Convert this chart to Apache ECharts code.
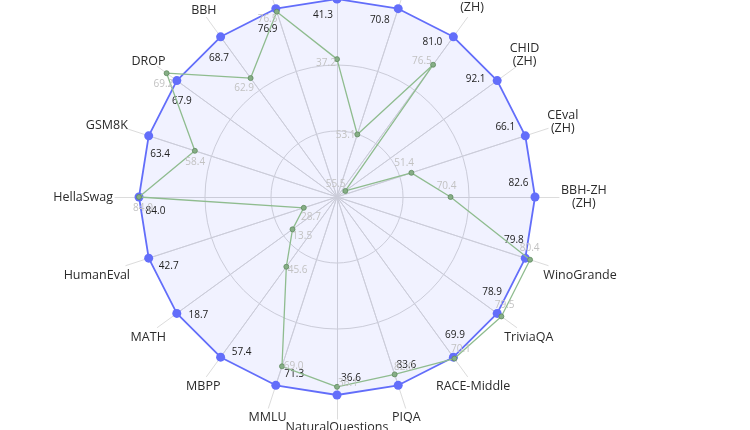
<!DOCTYPE html>
<html>
<head>
<meta charset="utf-8">
<script src="https://cdn.jsdelivr.net/npm/echarts@6/dist/echarts.min.js"></script>
<style>
  html, body { margin: 0; padding: 0; background: #fff; }
  #chart { width: 750px; height: 430px; }
</style>
</head>
<body>
<div id="chart"></div>
<script>
// benchmarks, counter-clockwise from the top (same order as the radar indicators)
const benchmarks = ['AGIEval', 'ARC-c', 'BBH', 'DROP', 'GSM8K', 'HellaSwag', 'HumanEval', 'MATH', 'MBPP', 'MMLU',
  'NaturalQuestions', 'PIQA', 'RACE-Middle', 'TriviaQA', 'WinoGrande',
  'BBH-ZH\n(ZH)', 'CEval\n(ZH)', 'CHID\n(ZH)', 'CLUEWSC\n(ZH)', 'CMMLU\n(ZH)']
// blue model (sits on the outer ring, it is the max of every axis)
const scoresA = [41.3, 76.9, 68.7, 67.9, 63.4, 84.0, 42.7, 18.7, 57.4, 71.3,
  36.6, 83.6, 69.9, 78.9, 79.8, 82.6, 66.1, 92.1, 81.0, 70.8]
// green model
const scoresB = [37.2, 76.5, 62.9, 69.2, 58.4, 84.0, 28.7, 13.5, 45.6, 69.0,
  36.1, 82.0, 70.1, 79.5, 80.4, 70.4, 51.4, 55.5, 76.5, 53.1]
// lower bound of each axis
const axisMin = [27.8, 51.5, 46.2, 47.5, 43.0, 56.3, 25.7, 11.5, 36.5, 48.5,
  24.5, 56.0, 47.0, 56.0, 56.0, 54.0, 41.8, 53.5, 55.2, 44.3]

const center = [337, 197]
const nameFont = '12.5px "Open Sans"'
const chart = echarts.init(document.getElementById('chart'))

// put each value label beside its point, turned with the axis
function rotatedLabel (inward, side) {
  return function (params) {
    const r = params.rect
    const cx = r.x + r.width / 2
    const cy = r.y + r.height / 2
    const dx = cx - center[0]
    const dy = cy - center[1]
    const len = Math.hypot(dx, dy) || 1
    const ix = -dx / len, iy = -dy / len   // towards the centre
    const px = -iy, py = ix               // sideways
    return {
      x: cx + ix * inward + px * side,
      y: cy + iy * inward + py * side,
      align: 'center',
      verticalAlign: 'middle'
    }
  }
}

// axis names: slide them sideways / up-down the way the original lays them out
const ctx = document.createElement('canvas').getContext('2d')
ctx.font = nameFont
const nameRich = {}
benchmarks.forEach((name, i) => {
  const a = i * 2 * Math.PI / benchmarks.length   // counter-clockwise from top
  const dx = -Math.sin(a)
  const dy = -Math.cos(a)
  const parts = name.split('\n')
  const w = Math.max(...parts.map(s => ctx.measureText(s).width))
  const sx = Math.abs(dx) < 0.05 ? 0 : Math.sign(dx) * Math.pow(Math.abs(dx), 4) * w / 2
  let sy
  if (dy > 0.05) sy = 6 + 3 * Math.abs(dx)                        // below the centre
  else if (dy < -0.05) sy = -(7 + 11 * (parts.length - 1)) * Math.abs(dy) // above it
  else sy = 0
  const base = { color: '#2b2b2b', fontSize: 12.5, fontFamily: 'Open Sans' }
  const padL = Math.max(0, 2 * sx), padR = Math.max(0, -2 * sx)
  const padT = Math.max(0, 2 * sy), padB = Math.max(0, -2 * sy)
  if (parts.length === 1) {
    nameRich['n' + i] = Object.assign({ padding: [padT, padR, padB, padL] }, base)
  } else {
    nameRich['n' + i + 'a'] = Object.assign({ padding: [padT, padR, 0, padL] }, base)
    nameRich['n' + i + 'b'] = Object.assign({ padding: [0, padR, padB, padL] }, base)
  }
})
function nameFormatter (name) {
  const i = benchmarks.indexOf(name)
  const parts = name.split('\n')
  if (parts.length === 1) return '{n' + i + '|' + name + '}'
  return '{n' + i + 'a|' + parts[0] + '}\n{n' + i + 'b|' + parts[1] + '}'
}

const option = {
  backgroundColor: '#fff',
  textStyle: { fontFamily: 'Open Sans' },
  radar: [
    { // long spokes running out to the names
      center: center,
      radius: 222,
      startAngle: 90,
      shape: 'circle',
      splitNumber: 1,
      silent: true,
      indicator: benchmarks.map(() => ({ min: 0, max: 1 })),
      axisName: { show: false },
      splitLine: { show: false },
      splitArea: { show: false },
      axisLine: { lineStyle: { color: '#dcdcdc', width: 1 } }
    },
    {
      center: center,
      radius: 198,
      startAngle: 90,
      shape: 'circle',
      splitNumber: 3,
      nameGap: 26,
      indicator: benchmarks.map((name, i) => ({ name: name, min: axisMin[i], max: scoresA[i] })),
      axisName: {
        color: '#2b2b2b',
        fontSize: 12.5,
        fontFamily: 'Open Sans',
        align: 'center',
        verticalAlign: 'middle',
        formatter: nameFormatter,
        rich: nameRich
      },
      splitLine: { lineStyle: { color: ['#d6d6d6', '#d6d6d6', '#d6d6d6', 'rgba(0,0,0,0)'], width: 1 } },
      splitArea: { show: false },
      axisLine: { lineStyle: { color: '#d6d6d6', width: 1 } }
    }
  ],
  series: [
    {
      name: 'Model B',
      type: 'radar',
      radarIndex: 1,
      symbol: 'circle',
      symbolSize: 5,
      z: 3,
      lineStyle: { color: '#8fbc8f', width: 1.3 },
      itemStyle: { color: '#86ae86', borderColor: '#5f8a5f', borderWidth: 0.8 },
      label: {
        show: true,
        color: '#c2c2c2',
        fontSize: 10,
        fontFamily: 'Open Sans',
        formatter: p => Number(p.value).toFixed(1)
      },
      labelLayout: rotatedLabel(4, 11),
      data: [{ value: scoresB }]
    },
    {
      name: 'Model A',
      type: 'radar',
      radarIndex: 1,
      symbol: 'circle',
      symbolSize: 9,
      z: 2,
      lineStyle: { color: '#636efa', width: 1.8 },
      itemStyle: { color: '#636efa' },
      areaStyle: { color: 'rgba(99,110,250,0.13)' },
      label: {
        show: true,
        color: '#222',
        fontSize: 10,
        fontFamily: 'Open Sans',
        formatter: p => Number(p.value).toFixed(1)
      },
      labelLayout: rotatedLabel(16.5, 14),
      data: [{ value: scoresA }]
    }
  ]
}
chart.setOption(option)
</script>
</body>
</html>
